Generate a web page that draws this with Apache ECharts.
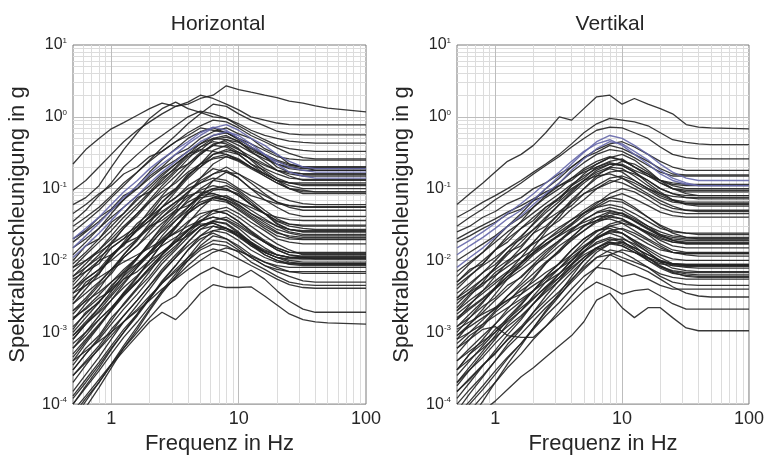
<!DOCTYPE html>
<html>
<head>
<meta charset="utf-8">
<script src="https://cdn.jsdelivr.net/npm/echarts@6/dist/echarts.min.js"></script>
<style>
html,body{margin:0;padding:0;background:#fff;}
#chart{width:767px;height:460px;}
</style>
</head>
<body>
<div id="chart"></div>
<script>
// Frequencies (Hz) at which every spectrum is sampled
const freqHz = [0.5, 0.63, 0.8, 1, 1.25, 1.6, 2, 2.5, 3.2, 4, 5, 6.3, 8, 10, 12.5, 16, 20, 25, 32, 40, 50, 100];

// Tick labels
const xTickLabels = ['1', '10', '100'];
const yTickExponents = ['1', '0', '-1', '-2', '-3', '-4'];

const panelTitles = ['Horizontal', 'Vertikal'];
const xAxisTitle = 'Frequenz in Hz';
const yAxisTitle = 'Spektralbeschleunigung in g';

// Horizontal spectra (g), black
const horizontalCurves = [
  [0.22, 0.35, 0.5, 0.68, 0.83, 1.05, 1.3, 1.55, 1.4, 1.5, 1.8, 2.0, 2.7, 2.4, 2.2, 2.0, 1.85, 1.65, 1.55, 1.42, 1.32, 1.17],
  [0.095, 0.13, 0.2, 0.3, 0.45, 0.65, 0.85, 1.1, 1.4, 1.6, 2.0, 1.8, 1.5, 1.25, 1.0, 0.9, 0.82, 0.78, 0.77, 0.77, 0.77, 0.77],
  [0.06, 0.075, 0.11, 0.2, 0.35, 0.6, 0.95, 1.3, 1.6, 1.3, 1.15, 1.0, 0.95, 0.8, 0.65, 0.55, 0.5, 0.46, 0.44, 0.43, 0.43, 0.43],
  [0.025, 0.035, 0.05, 0.075, 0.11, 0.17, 0.25, 0.37, 0.55, 0.8, 1.1, 1.5, 1.4, 1.1, 0.9, 0.75, 0.63, 0.58, 0.56, 0.56, 0.56, 0.56],
  [0.035, 0.05, 0.08, 0.12, 0.2, 0.3, 0.42, 0.55, 0.75, 1.0, 1.2, 1.1, 0.95, 0.75, 0.6, 0.48, 0.4, 0.36, 0.34, 0.33, 0.33, 0.33],
  [0.03, 0.04, 0.055, 0.08, 0.12, 0.17, 0.24, 0.33, 0.45, 0.6, 0.75, 0.9, 0.85, 0.7, 0.55, 0.45, 0.37, 0.31, 0.27, 0.26, 0.26, 0.26],
  [0.012, 0.018, 0.028, 0.045, 0.07, 0.11, 0.17, 0.25, 0.36, 0.5, 0.62, 0.7, 0.6, 0.48, 0.38, 0.3, 0.25, 0.22, 0.2, 0.2, 0.2, 0.2],
  [0.006, 0.009, 0.014, 0.022, 0.035, 0.055, 0.085, 0.13, 0.2, 0.3, 0.42, 0.55, 0.6, 0.5, 0.38, 0.28, 0.22, 0.19, 0.18, 0.18, 0.18, 0.18],
  [0.009, 0.013, 0.02, 0.03, 0.045, 0.07, 0.1, 0.15, 0.22, 0.3, 0.38, 0.45, 0.42, 0.35, 0.28, 0.22, 0.18, 0.16, 0.15, 0.15, 0.15, 0.15],
  [0.004, 0.006, 0.01, 0.017, 0.028, 0.045, 0.07, 0.11, 0.17, 0.26, 0.38, 0.5, 0.55, 0.45, 0.33, 0.24, 0.18, 0.15, 0.13, 0.13, 0.13, 0.13],
  [0.015, 0.02, 0.028, 0.04, 0.055, 0.08, 0.11, 0.16, 0.22, 0.3, 0.35, 0.33, 0.3, 0.25, 0.2, 0.16, 0.13, 0.12, 0.11, 0.11, 0.11, 0.11],
  [0.005, 0.008, 0.012, 0.018, 0.028, 0.042, 0.065, 0.1, 0.15, 0.22, 0.32, 0.4, 0.38, 0.3, 0.22, 0.16, 0.13, 0.11, 0.1, 0.1, 0.1, 0.1],
  [0.0025, 0.004, 0.0065, 0.011, 0.018, 0.03, 0.05, 0.08, 0.13, 0.2, 0.3, 0.42, 0.45, 0.36, 0.25, 0.17, 0.13, 0.1, 0.09, 0.09, 0.09, 0.09],
  [0.007, 0.01, 0.014, 0.02, 0.03, 0.045, 0.065, 0.09, 0.12, 0.17, 0.22, 0.26, 0.28, 0.24, 0.19, 0.15, 0.12, 0.1, 0.095, 0.09, 0.09, 0.09],
  [0.003, 0.0045, 0.007, 0.011, 0.017, 0.027, 0.042, 0.065, 0.1, 0.15, 0.22, 0.3, 0.35, 0.32, 0.26, 0.21, 0.18, 0.17, 0.16, 0.16, 0.16, 0.16],
  [0.018, 0.025, 0.035, 0.05, 0.07, 0.1, 0.14, 0.19, 0.25, 0.33, 0.42, 0.5, 0.48, 0.4, 0.32, 0.26, 0.22, 0.2, 0.19, 0.19, 0.19, 0.19],
  [0.0015, 0.0025, 0.004, 0.007, 0.012, 0.02, 0.033, 0.055, 0.09, 0.14, 0.2, 0.27, 0.3, 0.26, 0.2, 0.15, 0.12, 0.1, 0.085, 0.085, 0.085, 0.085],
  [8e-4, 1.3e-3, 2.2e-3, 3.7e-3, 6.2e-3, 1.05e-2, 1.8e-2, 3e-2, 5e-2, 8.5e-2, 0.14, 0.22, 0.28, 0.25, 0.2, 0.16, 0.13, 0.12, 0.115, 0.115, 0.115, 0.115],
  [4.5e-4, 7.5e-4, 1.25e-3, 2.1e-3, 3.6e-3, 6e-3, 1e-2, 1.7e-2, 2.9e-2, 4.9e-2, 8e-2, 0.13, 0.17, 0.16, 0.13, 0.1, 0.08, 0.068, 0.062, 0.06, 0.06, 0.06],
  [0.008, 0.01, 0.013, 0.017, 0.022, 0.03, 0.04, 0.055, 0.075, 0.1, 0.12, 0.14, 0.13, 0.1, 0.08, 0.07, 0.062, 0.058, 0.056, 0.056, 0.056, 0.056],
  [0.002, 0.003, 0.0048, 0.0075, 0.012, 0.019, 0.03, 0.045, 0.065, 0.09, 0.12, 0.16, 0.18, 0.14, 0.1, 0.07, 0.055, 0.045, 0.041, 0.041, 0.041, 0.041],
  [0.001, 0.0016, 0.0026, 0.0042, 0.007, 0.011, 0.018, 0.028, 0.045, 0.07, 0.1, 0.13, 0.12, 0.095, 0.07, 0.05, 0.038, 0.032, 0.03, 0.03, 0.03, 0.03],
  [0.004, 0.0055, 0.0075, 0.01, 0.014, 0.02, 0.028, 0.04, 0.055, 0.075, 0.095, 0.11, 0.1, 0.08, 0.06, 0.045, 0.035, 0.03, 0.028, 0.027, 0.027, 0.027],
  [0.0006, 0.001, 0.0017, 0.0028, 0.0047, 0.008, 0.013, 0.022, 0.036, 0.055, 0.08, 0.1, 0.11, 0.09, 0.065, 0.045, 0.033, 0.027, 0.025, 0.025, 0.025, 0.025],
  [0.0025, 0.0035, 0.005, 0.0075, 0.011, 0.016, 0.023, 0.033, 0.047, 0.065, 0.08, 0.085, 0.075, 0.06, 0.045, 0.034, 0.027, 0.024, 0.022, 0.022, 0.022, 0.022],
  [0.0015, 0.0022, 0.0033, 0.005, 0.0075, 0.011, 0.017, 0.025, 0.036, 0.05, 0.065, 0.075, 0.07, 0.055, 0.042, 0.032, 0.025, 0.021, 0.02, 0.02, 0.02, 0.02],
  [0.0004, 0.0007, 0.0012, 0.002, 0.0034, 0.0058, 0.01, 0.017, 0.028, 0.045, 0.07, 0.095, 0.1, 0.08, 0.06, 0.045, 0.036, 0.032, 0.031, 0.031, 0.031, 0.031],
  [0.006, 0.008, 0.011, 0.015, 0.02, 0.027, 0.036, 0.048, 0.065, 0.08, 0.09, 0.085, 0.075, 0.065, 0.055, 0.045, 0.04, 0.037, 0.036, 0.036, 0.036, 0.036],
  [0.0008, 0.0013, 0.002, 0.0032, 0.005, 0.008, 0.012, 0.019, 0.03, 0.045, 0.06, 0.07, 0.065, 0.052, 0.04, 0.03, 0.024, 0.022, 0.021, 0.021, 0.021, 0.021],
  [3e-4, 5e-4, 8.5e-4, 1.45e-3, 2.5e-3, 4.2e-3, 7e-3, 1.2e-2, 2e-2, 3.3e-2, 5.2e-2, 7.5e-2, 8e-2, 6.5e-2, 5e-2, 3.8e-2, 3e-2, 2.5e-2, 2.3e-2, 2.3e-2, 2.3e-2, 2.3e-2],
  [0.0012, 0.0018, 0.0027, 0.004, 0.006, 0.009, 0.013, 0.018, 0.025, 0.035, 0.045, 0.05, 0.045, 0.035, 0.026, 0.019, 0.015, 0.013, 0.013, 0.013, 0.013, 0.013],
  [0.0005, 0.0008, 0.0013, 0.002, 0.0032, 0.005, 0.008, 0.012, 0.018, 0.026, 0.035, 0.04, 0.036, 0.028, 0.02, 0.015, 0.012, 0.011, 0.011, 0.011, 0.011, 0.011],
  [0.0003, 0.0005, 0.0008, 0.0013, 0.0021, 0.0034, 0.0055, 0.009, 0.014, 0.021, 0.03, 0.035, 0.033, 0.025, 0.018, 0.013, 0.011, 0.01, 0.0095, 0.0095, 0.0095, 0.0095],
  [0.002, 0.0027, 0.0036, 0.005, 0.0068, 0.009, 0.012, 0.016, 0.021, 0.027, 0.032, 0.033, 0.028, 0.022, 0.017, 0.013, 0.011, 0.0095, 0.009, 0.009, 0.009, 0.009],
  [0.00015, 0.00026, 0.00045, 0.0008, 0.0014, 0.0024, 0.004, 0.0068, 0.011, 0.018, 0.027, 0.035, 0.032, 0.024, 0.017, 0.012, 0.01, 0.0088, 0.0085, 0.0085, 0.0085, 0.0085],
  [0.0009, 0.0013, 0.0019, 0.0028, 0.0042, 0.0062, 0.009, 0.013, 0.019, 0.027, 0.036, 0.045, 0.05, 0.04, 0.03, 0.022, 0.017, 0.014, 0.012, 0.012, 0.012, 0.012],
  [0.0002, 0.00035, 0.0006, 0.001, 0.0017, 0.0028, 0.0045, 0.007, 0.011, 0.016, 0.022, 0.026, 0.024, 0.019, 0.014, 0.011, 0.0095, 0.009, 0.0088, 0.0088, 0.0088, 0.0088],
  [0.0007, 0.001, 0.0015, 0.0022, 0.0033, 0.005, 0.0075, 0.011, 0.016, 0.023, 0.03, 0.036, 0.04, 0.032, 0.024, 0.018, 0.014, 0.012, 0.011, 0.0105, 0.0105, 0.0105],
  [0.00012, 0.0002, 0.00035, 0.0006, 0.001, 0.0017, 0.0029, 0.005, 0.0085, 0.014, 0.022, 0.03, 0.028, 0.021, 0.016, 0.012, 0.01, 0.0092, 0.009, 0.009, 0.009, 0.009],
  [0.0035, 0.0045, 0.0058, 0.0075, 0.0095, 0.012, 0.015, 0.019, 0.024, 0.03, 0.036, 0.04, 0.037, 0.03, 0.023, 0.018, 0.015, 0.013, 0.0125, 0.0125, 0.0125, 0.0125],
  [7e-5, 1.2e-4, 2e-4, 3.5e-4, 5.5e-4, 9e-4, 1.4e-3, 1.9e-3, 1.5e-3, 2.2e-3, 3.5e-3, 4.6e-3, 4.2e-3, 4.2e-3, 4.3e-3, 3.2e-3, 2.4e-3, 1.8e-3, 1.5e-3, 1.4e-3, 1.35e-3, 1.3e-3],
  [8e-5, 1.3e-4, 2.2e-4, 3.6e-4, 6e-4, 1e-3, 1.6e-3, 2.5e-3, 3.2e-3, 5e-3, 6.5e-3, 8e-3, 6.5e-3, 5.8e-3, 7.3e-3, 5.5e-3, 3.8e-3, 2.7e-3, 2.1e-3, 1.9e-3, 1.9e-3, 1.9e-3],
  [1e-4, 1.7e-4, 2.9e-4, 5e-4, 8.5e-4, 1.4e-3, 2.3e-3, 3.7e-3, 5.8e-3, 8.5e-3, 1.2e-2, 1.45e-2, 1.3e-2, 1.05e-2, 8.5e-3, 6.8e-3, 5.5e-3, 4.6e-3, 4.2e-3, 4.1e-3, 4.1e-3, 4.1e-3],
  [1.3e-4, 2.2e-4, 3.8e-4, 6.5e-4, 1.1e-3, 1.8e-3, 3e-3, 4.8e-3, 7.5e-3, 1.1e-2, 1.5e-2, 1.9e-2, 1.8e-2, 1.4e-2, 1.1e-2, 8.5e-3, 7e-3, 6e-3, 5.2e-3, 5e-3, 5e-3, 5e-3],
  [4e-4, 5.5e-4, 7.5e-4, 1e-3, 1.4e-3, 2e-3, 2.8e-3, 4e-3, 5.5e-3, 7.5e-3, 1e-2, 1.3e-2, 1.5e-2, 1.35e-2, 1.15e-2, 9.5e-3, 8e-3, 7e-3, 6.6e-3, 6.6e-3, 6.6e-3, 6.6e-3],
  [2.5e-4, 3.8e-4, 5.8e-4, 9e-4, 1.4e-3, 2.1e-3, 3.2e-3, 4.8e-3, 7e-3, 1e-2, 1.4e-2, 1.7e-2, 1.6e-2, 1.3e-2, 9.5e-3, 7.5e-3, 6e-3, 5e-3, 4.6e-3, 4.5e-3, 4.5e-3, 4.5e-3],
  [5e-5, 9e-5, 1.7e-4, 3.2e-4, 6e-4, 1.1e-3, 2e-3, 3.5e-3, 6e-3, 1e-2, 1.6e-2, 2.2e-2, 2e-2, 1.5e-2, 1.1e-2, 8.5e-3, 7.5e-3, 7e-3, 7e-3, 7e-3, 7e-3, 7e-3],
  [6e-5, 1.1e-4, 2e-4, 3.6e-4, 6.5e-4, 1.2e-3, 2.1e-3, 3.8e-3, 6.5e-3, 1.1e-2, 1.8e-2, 2.6e-2, 2.8e-2, 2.3e-2, 1.7e-2, 1.35e-2, 1.2e-2, 1.1e-2, 1.05e-2, 1.05e-2, 1.05e-2, 1.05e-2],
  [0.02, 0.026, 0.04, 0.052, 0.08, 0.1, 0.15, 0.2, 0.3, 0.36, 0.5, 0.62, 0.7, 0.58, 0.5, 0.36, 0.3, 0.22, 0.2, 0.18, 0.18, 0.18],
  [0.01, 0.016, 0.02, 0.034, 0.045, 0.075, 0.09, 0.14, 0.19, 0.28, 0.34, 0.48, 0.52, 0.46, 0.34, 0.28, 0.2, 0.17, 0.16, 0.16, 0.16, 0.16],
  [0.0045, 0.007, 0.009, 0.015, 0.02, 0.033, 0.045, 0.075, 0.1, 0.16, 0.2, 0.3, 0.33, 0.3, 0.22, 0.18, 0.14, 0.12, 0.12, 0.12, 0.12, 0.12],
  [0.0028, 0.005, 0.0065, 0.012, 0.016, 0.028, 0.04, 0.065, 0.095, 0.15, 0.22, 0.34, 0.4, 0.32, 0.26, 0.19, 0.16, 0.14, 0.135, 0.135, 0.135, 0.135],
  [0.0018, 0.0028, 0.0045, 0.0065, 0.011, 0.016, 0.026, 0.04, 0.06, 0.09, 0.13, 0.16, 0.2, 0.16, 0.12, 0.085, 0.065, 0.055, 0.05, 0.05, 0.05, 0.05],
  [0.0011, 0.0019, 0.0026, 0.0045, 0.0065, 0.011, 0.016, 0.026, 0.04, 0.055, 0.085, 0.1, 0.095, 0.085, 0.06, 0.045, 0.032, 0.027, 0.025, 0.025, 0.025, 0.025],
  [0.0055, 0.007, 0.01, 0.012, 0.017, 0.021, 0.03, 0.036, 0.05, 0.058, 0.075, 0.08, 0.07, 0.058, 0.045, 0.036, 0.03, 0.027, 0.026, 0.026, 0.026, 0.026],
  [0.00035, 0.0006, 0.0009, 0.0016, 0.0024, 0.004, 0.006, 0.01, 0.015, 0.024, 0.034, 0.05, 0.055, 0.045, 0.034, 0.026, 0.02, 0.018, 0.017, 0.017, 0.017, 0.017],
  [0.00025, 0.0004, 0.00065, 0.0011, 0.0017, 0.0028, 0.0045, 0.0075, 0.012, 0.018, 0.027, 0.03, 0.026, 0.022, 0.016, 0.013, 0.011, 0.0105, 0.0105, 0.0105, 0.0105, 0.0105],
  [0.0016, 0.0021, 0.003, 0.0038, 0.0055, 0.007, 0.01, 0.013, 0.018, 0.022, 0.03, 0.033, 0.028, 0.024, 0.018, 0.014, 0.012, 0.011, 0.0112, 0.0112, 0.0112, 0.0112],
  [0.0001, 0.00018, 0.00032, 0.00058, 0.001, 0.0018, 0.003, 0.0052, 0.0085, 0.014, 0.02, 0.024, 0.02, 0.016, 0.012, 0.0095, 0.0085, 0.008, 0.008, 0.008, 0.008, 0.008],
  [0.045, 0.06, 0.085, 0.11, 0.16, 0.2, 0.28, 0.33, 0.45, 0.55, 0.7, 0.65, 0.6, 0.5, 0.42, 0.34, 0.28, 0.26, 0.25, 0.25, 0.25, 0.25],
  [0.0035, 0.0055, 0.0075, 0.012, 0.017, 0.026, 0.036, 0.055, 0.075, 0.11, 0.14, 0.19, 0.17, 0.14, 0.1, 0.08, 0.065, 0.058, 0.055, 0.055, 0.055, 0.055],
  [0.0009, 0.0014, 0.0022, 0.0034, 0.0055, 0.0085, 0.013, 0.02, 0.03, 0.046, 0.06, 0.075, 0.068, 0.05, 0.038, 0.028, 0.022, 0.02, 0.0195, 0.0195, 0.0195, 0.0195],
  [0.0006, 0.0009, 0.0015, 0.0022, 0.0035, 0.0052, 0.008, 0.012, 0.018, 0.026, 0.04, 0.05, 0.045, 0.035, 0.025, 0.018, 0.014, 0.012, 0.0115, 0.0115, 0.0115, 0.0115],
  [0.008, 0.012, 0.018, 0.026, 0.04, 0.06, 0.09, 0.12, 0.18, 0.22, 0.3, 0.4, 0.48, 0.44, 0.36, 0.28, 0.24, 0.21, 0.2, 0.2, 0.2, 0.2]
];

// Horizontal spectra (g), blue
const horizontalBlue = [
  [0.015, 0.022, 0.033, 0.05, 0.075, 0.11, 0.16, 0.22, 0.3, 0.42, 0.55, 0.7, 0.78, 0.65, 0.5, 0.4, 0.3, 0.24, 0.2, 0.19, 0.19, 0.19],
  [0.011, 0.016, 0.024, 0.036, 0.055, 0.08, 0.12, 0.17, 0.24, 0.33, 0.45, 0.55, 0.62, 0.55, 0.42, 0.3, 0.22, 0.17, 0.15, 0.14, 0.14, 0.14],
  [0.02, 0.028, 0.04, 0.06, 0.09, 0.13, 0.19, 0.26, 0.35, 0.45, 0.6, 0.72, 0.65, 0.5, 0.38, 0.3, 0.24, 0.2, 0.18, 0.17, 0.17, 0.17]
];

// Vertical spectra (g), black
const verticalCurves = [
  [0.06, 0.085, 0.12, 0.17, 0.24, 0.3, 0.4, 0.6, 1.0, 0.9, 1.3, 1.9, 2.0, 1.5, 1.8, 1.5, 1.3, 1.1, 0.78, 0.72, 0.7, 0.68],
  [0.04, 0.05, 0.065, 0.08, 0.1, 0.13, 0.17, 0.22, 0.3, 0.42, 0.6, 0.8, 0.95, 0.9, 0.85, 0.75, 0.6, 0.48, 0.44, 0.42, 0.41, 0.41],
  [0.03, 0.04, 0.052, 0.07, 0.09, 0.12, 0.16, 0.21, 0.28, 0.38, 0.5, 0.65, 0.72, 0.7, 0.6, 0.5, 0.38, 0.3, 0.27, 0.26, 0.26, 0.26],
  [0.006, 0.009, 0.013, 0.02, 0.03, 0.045, 0.068, 0.1, 0.14, 0.2, 0.27, 0.35, 0.42, 0.45, 0.38, 0.3, 0.24, 0.2, 0.18, 0.18, 0.18, 0.18],
  [0.004, 0.006, 0.009, 0.014, 0.022, 0.035, 0.055, 0.08, 0.12, 0.17, 0.23, 0.3, 0.35, 0.33, 0.27, 0.21, 0.17, 0.15, 0.15, 0.15, 0.15, 0.15],
  [0.01, 0.013, 0.017, 0.022, 0.03, 0.04, 0.055, 0.075, 0.1, 0.14, 0.19, 0.24, 0.28, 0.25, 0.2, 0.15, 0.12, 0.1, 0.095, 0.095, 0.095, 0.095],
  [0.002, 0.0032, 0.005, 0.008, 0.013, 0.021, 0.033, 0.05, 0.075, 0.11, 0.16, 0.22, 0.27, 0.3, 0.25, 0.18, 0.13, 0.1, 0.085, 0.08, 0.08, 0.08],
  [0.003, 0.0045, 0.0068, 0.01, 0.015, 0.022, 0.032, 0.046, 0.066, 0.095, 0.13, 0.17, 0.2, 0.19, 0.15, 0.11, 0.085, 0.07, 0.065, 0.065, 0.065, 0.065],
  [0.0015, 0.0024, 0.0038, 0.006, 0.0095, 0.015, 0.024, 0.038, 0.06, 0.09, 0.13, 0.18, 0.22, 0.21, 0.17, 0.12, 0.09, 0.07, 0.06, 0.057, 0.057, 0.057],
  [0.005, 0.007, 0.01, 0.014, 0.02, 0.028, 0.04, 0.055, 0.075, 0.1, 0.13, 0.15, 0.16, 0.14, 0.11, 0.085, 0.068, 0.057, 0.05, 0.048, 0.048, 0.048],
  [0.001, 0.0016, 0.0026, 0.0042, 0.0068, 0.011, 0.018, 0.028, 0.045, 0.07, 0.1, 0.14, 0.17, 0.18, 0.16, 0.13, 0.1, 0.085, 0.075, 0.072, 0.072, 0.072],
  [0.007, 0.0095, 0.013, 0.018, 0.025, 0.034, 0.046, 0.062, 0.085, 0.115, 0.15, 0.19, 0.22, 0.22, 0.18, 0.15, 0.13, 0.12, 0.115, 0.115, 0.115, 0.115],
  [0.0025, 0.0037, 0.0055, 0.008, 0.012, 0.018, 0.027, 0.04, 0.06, 0.085, 0.12, 0.16, 0.19, 0.17, 0.13, 0.1, 0.08, 0.068, 0.062, 0.06, 0.06, 0.06],
  [0.0008, 0.0013, 0.0021, 0.0034, 0.0055, 0.009, 0.015, 0.025, 0.04, 0.065, 0.1, 0.15, 0.2, 0.24, 0.22, 0.17, 0.13, 0.11, 0.1, 0.1, 0.1, 0.1],
  [0.02, 0.025, 0.031, 0.038, 0.047, 0.058, 0.072, 0.09, 0.11, 0.14, 0.17, 0.2, 0.23, 0.21, 0.17, 0.13, 0.1, 0.085, 0.08, 0.08, 0.08, 0.08],
  [0.003, 0.004, 0.0055, 0.0075, 0.01, 0.013, 0.017, 0.022, 0.029, 0.037, 0.046, 0.055, 0.06, 0.055, 0.045, 0.035, 0.028, 0.025, 0.024, 0.024, 0.024, 0.024],
  [0.0012, 0.0018, 0.0027, 0.004, 0.006, 0.009, 0.013, 0.019, 0.027, 0.037, 0.05, 0.065, 0.075, 0.07, 0.055, 0.04, 0.03, 0.024, 0.021, 0.02, 0.02, 0.02],
  [0.0009, 0.0013, 0.0019, 0.0028, 0.004, 0.006, 0.0088, 0.013, 0.019, 0.027, 0.037, 0.046, 0.05, 0.045, 0.035, 0.027, 0.022, 0.019, 0.018, 0.018, 0.018, 0.018],
  [0.002, 0.0028, 0.0038, 0.0052, 0.007, 0.0095, 0.013, 0.017, 0.022, 0.028, 0.034, 0.04, 0.042, 0.038, 0.031, 0.024, 0.019, 0.016, 0.015, 0.015, 0.015, 0.015],
  [0.0005, 0.0008, 0.0013, 0.002, 0.0032, 0.005, 0.008, 0.012, 0.018, 0.026, 0.036, 0.047, 0.055, 0.05, 0.04, 0.03, 0.023, 0.019, 0.017, 0.017, 0.017, 0.017],
  [0.0007, 0.001, 0.0015, 0.0022, 0.0032, 0.0046, 0.0066, 0.0095, 0.0135, 0.019, 0.026, 0.034, 0.04, 0.038, 0.03, 0.023, 0.017, 0.014, 0.013, 0.013, 0.013, 0.013],
  [0.0015, 0.0021, 0.0029, 0.004, 0.0055, 0.0075, 0.01, 0.014, 0.019, 0.025, 0.031, 0.036, 0.038, 0.033, 0.026, 0.02, 0.016, 0.013, 0.012, 0.0115, 0.0115, 0.0115],
  [0.0003, 0.0005, 0.0008, 0.0013, 0.0021, 0.0034, 0.0055, 0.009, 0.014, 0.021, 0.03, 0.04, 0.048, 0.045, 0.036, 0.028, 0.023, 0.021, 0.02, 0.02, 0.02, 0.02],
  [6e-4, 8e-4, 1.1e-3, 1.2e-3, 9e-4, 8.5e-4, 8.5e-4, 1.2e-3, 2e-3, 3.2e-3, 5e-3, 8e-3, 1.2e-2, 1.4e-2, 1.3e-2, 1.1e-2, 9.5e-3, 9e-3, 8.8e-3, 8.8e-3, 8.8e-3, 8.8e-3],
  [0.0018, 0.0025, 0.0035, 0.0048, 0.0066, 0.009, 0.0125, 0.017, 0.023, 0.031, 0.042, 0.055, 0.068, 0.065, 0.052, 0.04, 0.031, 0.026, 0.024, 0.023, 0.023, 0.023],
  [0.0004, 0.0006, 0.0009, 0.0013, 0.0019, 0.0027, 0.0038, 0.0055, 0.0078, 0.011, 0.015, 0.02, 0.025, 0.024, 0.019, 0.014, 0.011, 0.009, 0.0085, 0.0085, 0.0085, 0.0085],
  [0.0002, 0.00033, 0.00055, 0.0009, 0.0015, 0.0024, 0.0038, 0.006, 0.0092, 0.014, 0.02, 0.026, 0.028, 0.024, 0.018, 0.013, 0.0095, 0.0078, 0.0072, 0.007, 0.007, 0.007],
  [0.0008, 0.001, 0.0013, 0.0017, 0.0022, 0.0029, 0.0038, 0.005, 0.0066, 0.0088, 0.012, 0.015, 0.018, 0.017, 0.014, 0.011, 0.0085, 0.007, 0.0065, 0.0063, 0.0063, 0.0063],
  [0.00012, 0.0002, 0.00034, 0.00056, 0.00092, 0.0015, 0.0025, 0.004, 0.0065, 0.01, 0.015, 0.021, 0.024, 0.021, 0.016, 0.011, 0.0082, 0.0068, 0.006, 0.0058, 0.0058, 0.0058],
  [0.0003, 0.00042, 0.0006, 0.00085, 0.0012, 0.0017, 0.0025, 0.0036, 0.0052, 0.0075, 0.011, 0.015, 0.019, 0.02, 0.017, 0.013, 0.01, 0.0085, 0.008, 0.0078, 0.0078, 0.0078],
  [0.00008, 0.00014, 0.00024, 0.0004, 0.00068, 0.0011, 0.0019, 0.0032, 0.0053, 0.0085, 0.013, 0.018, 0.021, 0.019, 0.014, 0.01, 0.0078, 0.0066, 0.0062, 0.006, 0.006, 0.006],
  [4e-5, 6e-5, 8e-5, 1.1e-4, 1.6e-4, 2.4e-4, 3.2e-4, 4.5e-4, 6.5e-4, 9e-4, 1.4e-3, 2.8e-3, 3.5e-3, 2.2e-3, 1.6e-3, 2.2e-3, 2.2e-3, 1.6e-3, 1.15e-3, 1.05e-3, 1.05e-3, 1.05e-3],
  [5e-5, 8e-5, 1.3e-4, 2e-4, 3.2e-4, 5e-4, 8e-4, 1.2e-3, 1.8e-3, 2.6e-3, 3.8e-3, 5e-3, 4.2e-3, 3.4e-3, 3.8e-3, 4e-3, 3.2e-3, 2.5e-3, 2.1e-3, 2.1e-3, 2.1e-3, 2.1e-3],
  [7e-5, 1.1e-4, 1.8e-4, 2.9e-4, 4.5e-4, 7e-4, 1.1e-3, 1.7e-3, 2.6e-3, 4e-3, 6e-3, 8e-3, 7.5e-3, 6e-3, 6.5e-3, 5.5e-3, 4.5e-3, 4e-3, 4e-3, 4e-3, 4e-3, 4e-3],
  [1e-4, 1.6e-4, 2.5e-4, 4e-4, 6.2e-4, 9.5e-4, 1.45e-3, 2.2e-3, 3.3e-3, 5e-3, 7.5e-3, 1.1e-2, 1.2e-2, 1e-2, 8.5e-3, 7e-3, 5.5e-3, 4.3e-3, 3.5e-3, 3.2e-3, 3.1e-3, 3.1e-3],
  [1.5e-4, 2.3e-4, 3.5e-4, 5.2e-4, 7.8e-4, 1.15e-3, 1.7e-3, 2.5e-3, 3.7e-3, 5.5e-3, 8e-3, 1.1e-2, 1.4e-2, 1.3e-2, 1.05e-2, 8e-3, 6e-3, 5e-3, 4.6e-3, 4.5e-3, 4.5e-3, 4.5e-3],
  [3e-5, 6e-5, 1.1e-4, 2e-4, 3.6e-4, 6.5e-4, 1.15e-3, 2e-3, 3.5e-3, 6e-3, 1e-2, 1.5e-2, 1.8e-2, 1.6e-2, 1.3e-2, 1.05e-2, 9e-3, 8.5e-3, 8.3e-3, 8.3e-3, 8.3e-3, 8.3e-3],
  [6e-5, 1e-4, 1.6e-4, 2.6e-4, 4.3e-4, 7e-4, 1.15e-3, 1.9e-3, 3.2e-3, 5.3e-3, 8.5e-3, 1.3e-2, 1.7e-2, 1.8e-2, 1.5e-2, 1.2e-2, 1e-2, 9e-3, 8.8e-3, 8.8e-3, 8.8e-3, 8.8e-3],
  [2e-4, 3e-4, 4.5e-4, 7e-4, 1.05e-3, 1.6e-3, 2.5e-3, 3.8e-3, 5.8e-3, 9e-3, 1.35e-2, 2e-2, 2.6e-2, 2.8e-2, 2.4e-2, 1.9e-2, 1.5e-2, 1.3e-2, 1.25e-2, 1.25e-2, 1.25e-2, 1.25e-2],
  [4e-4, 5.5e-4, 7.5e-4, 1e-3, 1.4e-3, 2e-3, 2.9e-3, 4.3e-3, 6.5e-3, 1e-2, 1.5e-2, 2.2e-2, 3e-2, 3.3e-2, 3e-2, 2.5e-2, 2.1e-2, 1.8e-2, 1.7e-2, 1.7e-2, 1.7e-2, 1.7e-2],
  [0.025, 0.03, 0.04, 0.048, 0.062, 0.075, 0.1, 0.12, 0.16, 0.2, 0.27, 0.32, 0.4, 0.36, 0.3, 0.24, 0.19, 0.16, 0.155, 0.155, 0.155, 0.155],
  [0.005, 0.0075, 0.009, 0.014, 0.018, 0.028, 0.036, 0.055, 0.07, 0.11, 0.14, 0.2, 0.24, 0.26, 0.2, 0.16, 0.12, 0.1, 0.09, 0.09, 0.09, 0.09],
  [0.0035, 0.0048, 0.0068, 0.0088, 0.013, 0.016, 0.024, 0.03, 0.045, 0.058, 0.085, 0.1, 0.13, 0.12, 0.1, 0.08, 0.062, 0.053, 0.05, 0.05, 0.05, 0.05],
  [0.0022, 0.0034, 0.0045, 0.0068, 0.009, 0.013, 0.018, 0.027, 0.036, 0.052, 0.07, 0.1, 0.12, 0.14, 0.12, 0.095, 0.075, 0.065, 0.062, 0.062, 0.062, 0.062],
  [0.0012, 0.0016, 0.0023, 0.003, 0.0045, 0.0058, 0.0085, 0.011, 0.016, 0.021, 0.03, 0.036, 0.046, 0.042, 0.036, 0.028, 0.022, 0.02, 0.019, 0.019, 0.019, 0.019],
  [0.0006, 0.0009, 0.0012, 0.0019, 0.0026, 0.0042, 0.0058, 0.0092, 0.013, 0.02, 0.026, 0.036, 0.042, 0.046, 0.038, 0.03, 0.025, 0.022, 0.021, 0.021, 0.021, 0.021],
  [0.00025, 0.0004, 0.00065, 0.001, 0.0016, 0.0025, 0.0038, 0.006, 0.009, 0.014, 0.02, 0.026, 0.03, 0.027, 0.022, 0.017, 0.014, 0.013, 0.0125, 0.0125, 0.0125, 0.0125],
  [0.00015, 0.00022, 0.00035, 0.0005, 0.0008, 0.0012, 0.0019, 0.0028, 0.0045, 0.0068, 0.01, 0.014, 0.017, 0.016, 0.013, 0.01, 0.0082, 0.0072, 0.0068, 0.0068, 0.0068, 0.0068],
  [0.0011, 0.0014, 0.0018, 0.0022, 0.0028, 0.0034, 0.0045, 0.0058, 0.0078, 0.01, 0.0135, 0.017, 0.02, 0.018, 0.015, 0.012, 0.0098, 0.0088, 0.0085, 0.0085, 0.0085, 0.0085],
  [0.018, 0.022, 0.028, 0.034, 0.044, 0.052, 0.068, 0.08, 0.11, 0.13, 0.18, 0.22, 0.27, 0.25, 0.2, 0.16, 0.13, 0.115, 0.11, 0.11, 0.11, 0.11],
  [0.0045, 0.0062, 0.0085, 0.011, 0.015, 0.02, 0.027, 0.036, 0.048, 0.065, 0.085, 0.11, 0.14, 0.15, 0.13, 0.1, 0.085, 0.078, 0.075, 0.075, 0.075, 0.075],
  [0.0003, 0.0005, 0.0007, 0.0011, 0.0015, 0.0022, 0.003, 0.0042, 0.0058, 0.008, 0.011, 0.015, 0.013, 0.011, 0.0095, 0.008, 0.0065, 0.0058, 0.0055, 0.0055, 0.0055, 0.0055],
  [0.00018, 0.0003, 0.0005, 0.0008, 0.0013, 0.002, 0.0032, 0.005, 0.0078, 0.012, 0.018, 0.025, 0.032, 0.036, 0.03, 0.024, 0.02, 0.018, 0.0175, 0.0175, 0.0175, 0.0175],
  [0.0028, 0.0036, 0.0048, 0.0062, 0.0082, 0.011, 0.014, 0.019, 0.025, 0.033, 0.045, 0.058, 0.075, 0.085, 0.072, 0.058, 0.047, 0.042, 0.04, 0.04, 0.04, 0.04],
  [0.0016, 0.0022, 0.003, 0.0042, 0.006, 0.0082, 0.012, 0.016, 0.023, 0.032, 0.046, 0.062, 0.085, 0.1, 0.09, 0.07, 0.055, 0.048, 0.045, 0.045, 0.045, 0.045],
  [0.0009, 0.0012, 0.0016, 0.0021, 0.0028, 0.0038, 0.005, 0.0068, 0.009, 0.012, 0.016, 0.021, 0.026, 0.024, 0.019, 0.015, 0.012, 0.0105, 0.01, 0.01, 0.01, 0.01]
];

// Vertical spectra (g), blue
const verticalBlue = [
  [0.012, 0.016, 0.021, 0.028, 0.038, 0.05, 0.07, 0.1, 0.15, 0.22, 0.32, 0.45, 0.55, 0.5, 0.4, 0.3, 0.22, 0.17, 0.14, 0.13, 0.13, 0.13],
  [0.008, 0.011, 0.015, 0.021, 0.03, 0.042, 0.06, 0.085, 0.12, 0.18, 0.26, 0.36, 0.45, 0.42, 0.33, 0.25, 0.18, 0.14, 0.12, 0.11, 0.11, 0.11],
  [0.015, 0.019, 0.025, 0.033, 0.045, 0.062, 0.085, 0.12, 0.17, 0.24, 0.33, 0.42, 0.48, 0.4, 0.3, 0.22, 0.16, 0.13, 0.115, 0.11, 0.11, 0.11]
];

// ---------- build chart ----------
const FONT = "'Liberation Sans', Arial, Helvetica, sans-serif";
const TXT = '#262626';

// grid line positions (2..9 within each decade) for the log axes
const xMinor = [], xMajor = [1, 10];
[0.1, 1, 10].forEach(d => { for (let m = 2; m <= 9; m++) { const v = +(m * d).toPrecision(3); if (v > 0.5 && v < 100) xMinor.push(v); } });
const yMinor = [], yMajor = [1e-3, 1e-2, 1e-1, 1];
[1e-4, 1e-3, 1e-2, 1e-1, 1].forEach(d => { for (let m = 2; m <= 9; m++) yMinor.push(+(m * d).toPrecision(3)); });

const grids = [
  { left: 73, right: 767 - 366, top: 45, bottom: 460 - 413 },
  { left: 457, right: 767 - 749, top: 45, bottom: 460 - 413 }
];

function xLabel(v) {
  const t = xTickLabels.find(s => Math.abs(Number(s) - v) < 1e-6 * Number(s));
  return t || '';
}
function yLabel(v) {
  const e = String(Math.round(Math.log10(v)));
  if (yTickExponents.indexOf(e) < 0) return '';
  return '{b|10}{s|' + e + '}';
}

const xAxes = [0, 1].map(i => ({
  type: 'log', logBase: 10, min: 0.5, max: 100, gridIndex: i,
  name: xAxisTitle, nameLocation: 'middle', nameGap: 28,
  nameTextStyle: { fontFamily: FONT, fontSize: 22, color: TXT },
  axisLine: { show: false }, axisTick: { show: false },
  splitLine: { show: false },
  axisLabel: { formatter: xLabel, fontFamily: FONT, fontSize: 18, color: TXT, margin: 6, showMinLabel: false }
}));
const yAxes = [0, 1].map(i => ({
  type: 'log', logBase: 10, min: 1e-4, max: 10, gridIndex: i,
  name: yAxisTitle, nameLocation: 'middle', nameGap: 44,
  nameTextStyle: { fontFamily: FONT, fontSize: 22, color: TXT },
  axisLine: { show: false }, axisTick: { show: false },
  splitLine: { show: false },
  axisLabel: {
    formatter: yLabel, margin: 6, color: TXT,
    rich: {
      b: { fontFamily: FONT, fontSize: 16, color: TXT },
      s: { fontFamily: FONT, fontSize: 8, color: TXT, verticalAlign: 'top', padding: [0, 0, 8, 0] }
    }
  }
}));

const series = [];
[0, 1].forEach(i => {
  const mk = (vals, key, color) => vals.map(v => ({ [key]: v, lineStyle: { color: color, width: 1, type: 'solid' } }));
  series.push({
    type: 'line', xAxisIndex: i, yAxisIndex: i, data: [], silent: true, z: 0,
    markLine: {
      silent: true, z: 0, symbol: ['none', 'none'], label: { show: false }, animation: false,
      data: [].concat(
        mk(xMinor, 'xAxis', '#dcdcdc'), mk(yMinor, 'yAxis', '#dcdcdc'),
        mk(xMajor, 'xAxis', '#bdbdbd'), mk(yMajor, 'yAxis', '#bdbdbd')
      )
    }
  });
});

function addCurves(curves, idx, color, width, z) {
  curves.forEach(c => {
    series.push({
      type: 'line', xAxisIndex: idx, yAxisIndex: idx, z: z,
      data: freqHz.map((f, k) => [f, c[k]]),
      showSymbol: false, symbol: 'none', silent: true, clip: true,
      lineStyle: { color: color, width: width, opacity: 0.9 }
    });
  });
}
addCurves(horizontalCurves, 0, '#222222', 1.3, 6);
addCurves(horizontalBlue, 0, '#6466a8', 1.4, 7);
addCurves(verticalCurves, 1, '#222222', 1.3, 6);
addCurves(verticalBlue, 1, '#6466a8', 1.4, 7);

const chart = echarts.init(document.getElementById('chart'), null, { renderer: 'canvas' });
chart.setOption({
  animation: false,
  backgroundColor: '#ffffff',
  title: [
    { text: panelTitles[0], left: 213, top: 9, textAlign: 'center', textStyle: { fontFamily: FONT, fontSize: 21, fontWeight: 'normal', color: TXT } },
    { text: panelTitles[1], left: 605, top: 9, textAlign: 'center', textStyle: { fontFamily: FONT, fontSize: 21, fontWeight: 'normal', color: TXT } }
  ],
  grid: grids.map(g => Object.assign({ show: true, borderColor: '#7a7a7a', borderWidth: 1, backgroundColor: 'transparent' }, g)),
  xAxis: xAxes,
  yAxis: yAxes,
  series: series
});
</script>
</body>
</html>
